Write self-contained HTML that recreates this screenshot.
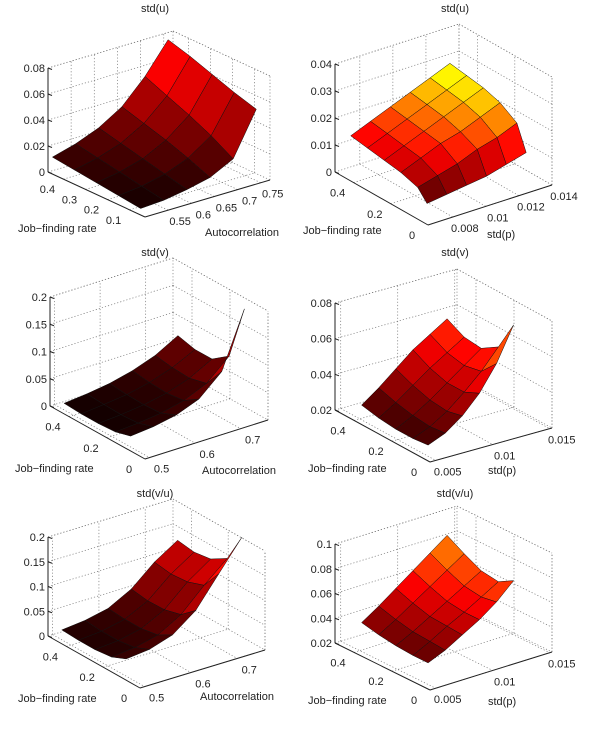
<!DOCTYPE html>
<html><head><meta charset="utf-8">
<style>
html,body{margin:0;padding:0;background:#fff;overflow:hidden;width:600px;height:744px}
svg{display:block}
text{font-family:"Liberation Sans",sans-serif;font-size:11px;fill:#222}
</style></head>
<body>
<svg id="chart" width="600" height="744" viewBox="0 0 600 744"></svg>
<script>
// ---- data ----
const p1Jf = [0.45, 0.35, 0.25, 0.15, 0.05];
const p1X = [0.5, 0.55, 0.6, 0.65, 0.7, 0.75];
const p1Z = [
 [0.013,0.018,0.025,0.036,0.054,0.077],
 [0.011,0.015,0.021,0.031,0.047,0.072],
 [0.009,0.012,0.017,0.026,0.040,0.066],
 [0.007,0.009,0.013,0.020,0.032,0.060],
 [0.005,0.006,0.009,0.013,0.022,0.055]];
const p2Jf = [0.46, 0.37, 0.28, 0.19, 0.10, 0.05];
const p2X = [0.007, 0.0082, 0.0094, 0.0106, 0.0118, 0.013];
const p2Z = [
 [0.014,0.017,0.020,0.023,0.026,0.029],
 [0.013,0.016,0.019,0.022,0.025,0.028],
 [0.012,0.015,0.018,0.021,0.024,0.027],
 [0.011,0.014,0.017,0.019,0.022,0.025],
 [0.009,0.011,0.013,0.016,0.018,0.021],
 [0.005,0.006,0.007,0.008,0.010,0.012]];
const p3Jf = [0.45, 0.36, 0.27, 0.18, 0.10];
const p3X = [0.5, 0.55, 0.6, 0.65, 0.7, 0.75];
const p3Z = [
 [0.012,0.016,0.022,0.032,0.047,0.070],
 [0.010,0.014,0.019,0.028,0.042,0.062],
 [0.010,0.013,0.018,0.026,0.040,0.062],
 [0.012,0.015,0.020,0.030,0.048,0.085],
 [0.020,0.024,0.032,0.048,0.085,0.187]];
const p4Jf = [0.45, 0.36, 0.27, 0.18, 0.10];
const p4X = [0.006, 0.0075, 0.009, 0.0105, 0.012, 0.0135];
const p4Z = [
 [0.023,0.030,0.038,0.046,0.052,0.058],
 [0.021,0.027,0.034,0.041,0.047,0.053],
 [0.020,0.025,0.031,0.038,0.045,0.052],
 [0.020,0.024,0.030,0.038,0.047,0.058],
 [0.021,0.025,0.032,0.042,0.056,0.075]];
const p5Jf = [0.45, 0.36, 0.27, 0.18, 0.10];
const p5X = [0.5, 0.55, 0.6, 0.65, 0.7, 0.75];
const p5Z = [
 [0.020,0.025,0.035,0.060,0.100,0.130],
 [0.018,0.022,0.032,0.055,0.095,0.125],
 [0.018,0.022,0.032,0.056,0.098,0.130],
 [0.022,0.027,0.038,0.065,0.110,0.150],
 [0.035,0.040,0.055,0.090,0.150,0.210]];
const p6Jf = [0.45, 0.36, 0.27, 0.18, 0.10];
const p6X = [0.006, 0.0075, 0.009, 0.0105, 0.012, 0.0135];
const p6Z = [
 [0.036,0.045,0.055,0.065,0.075,0.085],
 [0.033,0.041,0.050,0.059,0.068,0.077],
 [0.031,0.038,0.046,0.054,0.062,0.070],
 [0.030,0.037,0.045,0.052,0.060,0.068],
 [0.030,0.036,0.044,0.052,0.062,0.075]];
const zTicks1 = ["0","0.02","0.04","0.06","0.08"];
const zTicks2 = ["0","0.01","0.02","0.03","0.04"];
const zTicks3 = ["0","0.05","0.1","0.15","0.2"];
const zTicks4 = ["0.02","0.04","0.06","0.08"];
const zTicks5 = ["0","0.05","0.1","0.15","0.2"];
const zTicks6 = ["0.02","0.04","0.06","0.08","0.1"];
const jfTicksA = ["0.1","0.2","0.3","0.4"];
const jfTicksB = ["0","0.2","0.4"];
const autoTicksA = ["0.55","0.6","0.65","0.7","0.75"];
const autoTicksB = ["0.5","0.6","0.7"];
const stdpTicksA = ["0.008","0.01","0.012","0.014"];
const stdpTicksB = ["0.005","0.01","0.015"];

// ---- layout ----
const panels = [
 {name:"std-u-autocorr", title:"std(u)", xl:"Autocorrelation", A:[48,172],F:[145,217],R:[270,180], jfR:[0.03,0.47], xR:[0.5,0.77], zR:[0,0.08], k:1300, clim:[0,0.17], jf:p1Jf, x:p1X, z:p1Z, zt:zTicks1, jt:jfTicksA, xt:autoTicksA, tx:[155,12], jl:[18,232], xlp:[205,236]},
 {name:"std-u-stdp", title:"std(u)", xl:"std(p)", A:[335,172],F:[428,225],R:[552,185], jfR:[0,0.5], xR:[0.0065,0.014], zR:[0,0.04], k:2700, clim:[0.002,0.036], jf:p2Jf, x:p2X, z:p2Z, zt:zTicks2, jt:jfTicksB, xt:stdpTicksA, tx:[455,12], jl:[303,234], xlp:[487,238]},
 {name:"std-v-autocorr", title:"std(v)", xl:"Autocorrelation", A:[50,406],F:[145,459],R:[268,420], jfR:[0,0.5], xR:[0.49,0.76], zR:[0,0.2], k:545, clim:[0,0.4], jf:p3Jf, x:p3X, z:p3Z, zt:zTicks3, jt:jfTicksB, xt:autoTicksB, tx:[155,256], jl:[15,472], xlp:[202,474]},
 {name:"std-v-stdp", title:"std(v)", xl:"std(p)", A:[335,410],F:[430,462],R:[552,428], jfR:[0,0.5], xR:[0.0045,0.0152], zR:[0.02,0.08], k:1783, clim:[0.012,0.11], jf:p4Jf, x:p4X, z:p4Z, zt:zTicks4, jt:jfTicksB, xt:stdpTicksB, tx:[455,256], jl:[308,472], xlp:[488,474]},
 {name:"std-vu-autocorr", title:"std(v/u)", xl:"Autocorrelation", A:[48,636],F:[140,688],R:[265,650], jfR:[0,0.5], xR:[0.49,0.76], zR:[0,0.2], k:495, clim:[0,0.4], jf:p5Jf, x:p5X, z:p5Z, zt:zTicks5, jt:jfTicksB, xt:autoTicksB, tx:[155,497], jl:[18,702], xlp:[200,700]},
 {name:"std-vu-stdp", title:"std(v/u)", xl:"std(p)", A:[335,643],F:[430,690],R:[552,652], jfR:[0,0.5], xR:[0.0045,0.0152], zR:[0.02,0.1], k:1237, clim:[0.015,0.13], jf:p6Jf, x:p6X, z:p6Z, zt:zTicks6, jt:jfTicksB, xt:stdpTicksB, tx:[455,497], jl:[308,704], xlp:[488,705]}
];

const NS = "http://www.w3.org/2000/svg";
const svg = document.getElementById("chart");
function mk(tag, attrs, parent){ const e=document.createElementNS(NS,tag); for(const k in attrs) e.setAttribute(k,attrs[k]); (parent||svg).appendChild(e); return e; }
function hot(t){ t=Math.max(0,Math.min(1,t)); let r,g,b;
 r=Math.min(1,t/0.375); g=Math.max(0,Math.min(1,(t-0.375)/0.375)); b=Math.max(0,(t-0.75)/0.25);
 return "rgb("+Math.round(r*255)+","+Math.round(g*255)+","+Math.round(b*255)+")"; }

panels.forEach(p=>{
 const g = mk("g",{});
 
 
 const proj=(jf,x,z)=>{ const u=(p.jfR[1]-jf)/(p.jfR[1]-p.jfR[0]); const v=(x-p.xR[0])/(p.xR[1]-p.xR[0]);
   return [p.A[0]+u*(p.F[0]-p.A[0])+v*(p.R[0]-p.F[0]), p.A[1]+u*(p.F[1]-p.A[1])+v*(p.R[1]-p.F[1])-(z-p.zR[0])*p.k]; };
 const dot={stroke:"#777","stroke-width":0.7,"stroke-dasharray":"1.2,2",fill:"none"};
 const line=(a,b,st)=>mk("line",Object.assign({x1:a[0],y1:a[1],x2:b[0],y2:b[1]},st),g);
 const z0=p.zR[0], z1=p.zR[1];
 const jHi=p.jfR[1], jLo=p.jfR[0], xLo=p.xR[0], xHi=p.xR[1];
 p.zt.forEach(s=>{ const z=parseFloat(s);
   line(proj(jHi,xLo,z),proj(jHi,xHi,z),dot); line(proj(jHi,xHi,z),proj(jLo,xHi,z),dot); });
 line(proj(jHi,xLo,z1),proj(jHi,xHi,z1),dot); line(proj(jHi,xHi,z1),proj(jLo,xHi,z1),dot);
 line(proj(jHi,xHi,z0),proj(jHi,xHi,z1),dot); line(proj(jLo,xHi,z0),proj(jLo,xHi,z1),dot);
 p.xt.forEach(s=>{ const x=parseFloat(s); if(x>xHi) return;
   line(proj(jHi,x,z0),proj(jHi,x,z1),dot); line(proj(jHi,x,z0),proj(jLo,x,z0),dot); });
 p.jt.forEach(s=>{ const j=parseFloat(s);
   line(proj(j,xHi,z0),proj(j,xHi,z1),dot); line(proj(j,xLo,z0),proj(j,xHi,z0),dot); });
 const faces=[];
 for(let i=0;i<p.jf.length-1;i++) for(let j=0;j<p.x.length-1;j++){
   const c=[[i,j],[i,j+1],[i+1,j+1],[i+1,j]];
   const pts=c.map(([a,b])=>proj(p.jf[a],p.x[b],p.z[a][b]));
   const base=proj((p.jf[i]+p.jf[i+1])/2,(p.x[j]+p.x[j+1])/2,z0);
   const zm=c.reduce((s,[a,b])=>s+p.z[a][b],0)/4;
   faces.push({pts,depth:base[1],zm,i,j});
 }
 faces.sort((a,b)=>a.depth-b.depth);
 faces.forEach(f=>{
   const poly=mk("polygon",{points:f.pts.map(q=>q[0].toFixed(1)+","+q[1].toFixed(1)).join(" "),fill:hot((f.zm-p.clim[0])/(p.clim[1]-p.clim[0])),stroke:"#111","stroke-width":0.5},g);
   
   
 });
 const sol={stroke:"#222","stroke-width":1};
 line(proj(jHi,xLo,z0),proj(jHi,xLo,z1),sol);
 line(proj(jHi,xLo,z0),proj(jLo,xLo,z0),sol);
 line(proj(jLo,xLo,z0),proj(jLo,xHi,z0),sol);
 p.zt.forEach(s=>{ const q=proj(jHi,xLo,parseFloat(s));
   line(q,[q[0]+4,q[1]+1.5],sol);
   const t=mk("text",{x:q[0]-3,y:q[1]+4,"text-anchor":"end"},g); t.textContent=s;
     });
 p.jt.forEach(s=>{ const q=proj(parseFloat(s),xLo,z0);
   const t=mk("text",{x:q[0]-16,y:q[1]+14,"text-anchor":"middle"},g); t.textContent=s;
     });
 p.xt.forEach(s=>{ const q=proj(jLo,parseFloat(s),z0);
   const t=mk("text",{x:q[0]+12,y:q[1]+15,"text-anchor":"middle"},g); t.textContent=s;
     });
 const tt=mk("text",{x:p.tx[0],y:p.tx[1],"text-anchor":"middle"},g); tt.textContent=p.title;
  
 const jl=mk("text",{x:p.jl[0],y:p.jl[1]},g); jl.textContent="Job\u2212finding rate";
  
 const xl=mk("text",{x:p.xlp[0],y:p.xlp[1]},g); xl.textContent=p.xl;
  
});
</script>
</body></html>
